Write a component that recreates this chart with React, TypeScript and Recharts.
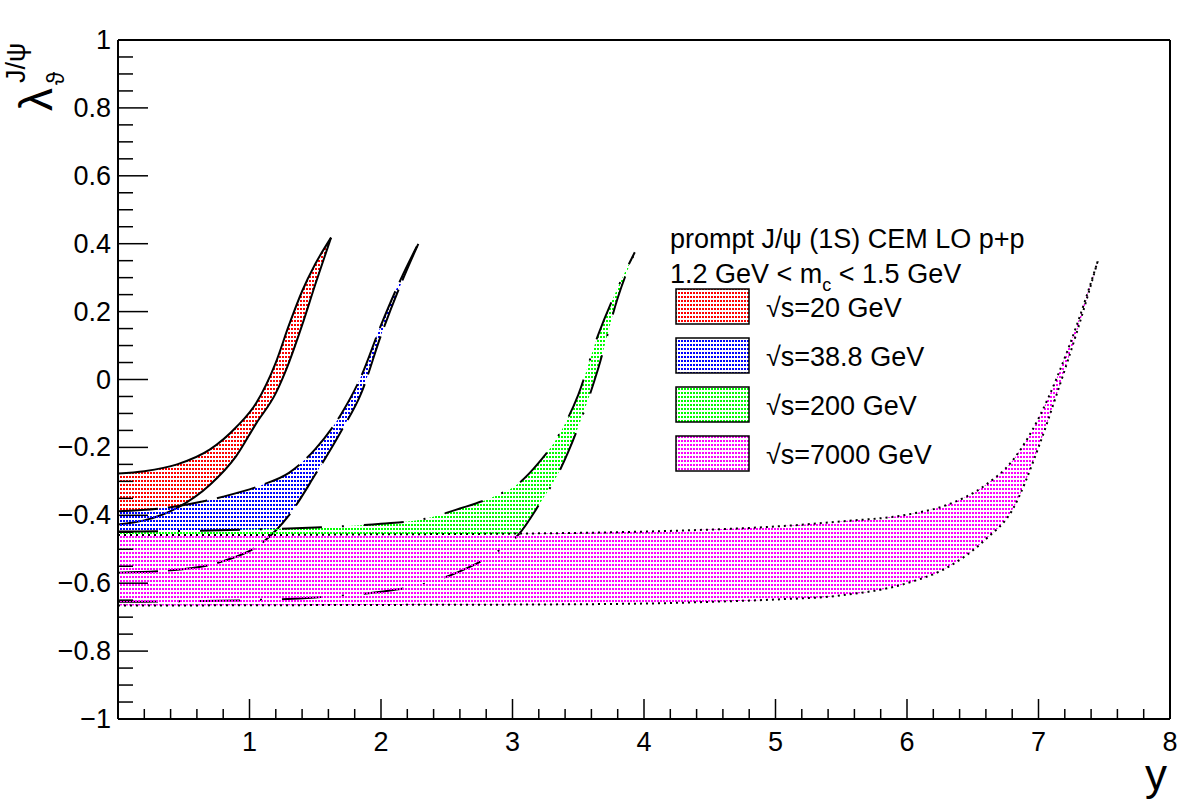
import { ComposedChart, Area, XAxis, YAxis, ReferenceLine } from 'recharts';

const W = 1182;
const H = 800;
const FONT = 'Liberation Sans, Arial, DejaVu Sans, sans-serif';

// rapidity samples and lambda_theta band edges, one set per energy
const RED_X = [0, 0.2, 0.45, 0.7, 0.9, 1.05, 1.2, 1.3, 1.4, 1.5, 1.62];
const RED_LO = [-0.427, -0.415, -0.378, -0.31, -0.225, -0.13, -0.04, 0.05, 0.16, 0.28, 0.418];
const RED_HI = [-0.277, -0.27, -0.25, -0.206, -0.14, -0.07, 0.05, 0.16, 0.26, 0.34, 0.418];

const BLUE_X = [0, 0.4, 0.8, 1.1, 1.3, 1.5, 1.7, 1.85, 2.0, 2.15, 2.29];
const BLUE_LO = [-0.569, -0.562, -0.535, -0.48, -0.4, -0.28, -0.15, -0.04, 0.13, 0.28, 0.405];
const BLUE_HI = [-0.388, -0.376, -0.345, -0.31, -0.275, -0.205, -0.1, 0.01, 0.16, 0.295, 0.405];

const GREEN_X = [0, 0.5, 1.0, 1.5, 2.0, 2.3, 2.6, 2.85, 3.05, 3.2, 3.35, 3.5, 3.65, 3.8, 3.93];
const GREEN_LO = [-0.655, -0.653, -0.65, -0.642, -0.625, -0.605, -0.565, -0.515, -0.455, -0.37, -0.275, -0.14, 0.03, 0.24, 0.375];
const GREEN_HI = [-0.448, -0.446, -0.442, -0.436, -0.425, -0.413, -0.38, -0.346, -0.305, -0.245, -0.165, -0.045, 0.13, 0.27, 0.375];

const MAG_X = [0, 1, 2, 3, 4, 4.5, 5, 5.5, 6, 6.3, 6.6, 6.8, 7.0, 7.15, 7.3, 7.45];
const MAG_LO = [-0.666, -0.665, -0.664, -0.663, -0.66, -0.655, -0.648, -0.636, -0.6, -0.555, -0.47, -0.385, -0.2, -0.03, 0.15, 0.348];
const MAG_HI = [-0.458, -0.458, -0.456, -0.454, -0.448, -0.442, -0.433, -0.418, -0.398, -0.37, -0.31, -0.24, -0.115, 0.015, 0.17, 0.348];

const NAMES = ['√s=20 GeV', '√s=38.8 GeV', '√s=200 GeV', '√s=7000 GeV'];

const X_MAJOR = [1, 2, 3, 4, 5, 6, 7, 8];
const X_LABELS = ['1', '2', '3', '4', '5', '6', '7', '8'];
const Y_MAJOR = [-1, -0.8, -0.6, -0.4, -0.2, 0, 0.2, 0.4, 0.6, 0.8, 1];
const Y_LABELS = ['−1', '−0.8', '−0.6', '−0.4', '−0.2', '0', '0.2', '0.4', '0.6', '0.8', '1'];

// minor ticks: 0.2 on x, 0.05 on y
const X_TICKS = Array.from({ length: 41 }, (_, i) => Math.round(i * 20) / 100);
const Y_TICKS = Array.from({ length: 41 }, (_, i) => Math.round(i * 5 - 100) / 100);

const rows = (xs: number[], lo: number[], hi: number[]) =>
  xs.map((x, i) => ({ x, band: [lo[i], hi[i]] }));

const COLORS = ['#ff0000', '#0000ff', '#00ff00', '#ff00ff'];
const DASHES = [undefined, '40 10', '40 20 2 20', '2 4'];
const bands = [
  rows(RED_X, RED_LO, RED_HI),
  rows(BLUE_X, BLUE_LO, BLUE_HI),
  rows(GREEN_X, GREEN_LO, GREEN_HI),
  rows(MAG_X, MAG_LO, MAG_HI),
];

const near = (a: number, b: number) => Math.abs(a - b) < 1e-6;

const XTick = (props: any) => {
  const { x, y, payload } = props;
  const v = payload.value;
  const i = X_MAJOR.findIndex((m) => near(m, v));
  const major = near(v, Math.round(v));
  return (
    <g>
      <line x1={x} x2={x} y1={y} y2={y - (major ? 20 : 10)} stroke="#000" strokeWidth={1.5} />
      {i >= 0 && (
        <text x={x} y={y + 32} textAnchor="middle" fontSize={27} fontFamily={FONT} fill="#000">
          {X_LABELS[i]}
        </text>
      )}
    </g>
  );
};

const YTick = (props: any) => {
  const { x, y, payload } = props;
  const v = payload.value;
  const i = Y_MAJOR.findIndex((m) => near(m, v));
  return (
    <g>
      <line x1={x} x2={x + (i >= 0 ? 30 : 15)} y1={y} y2={y} stroke="#000" strokeWidth={1.5} />
      {i >= 0 && (
        <text x={x - 7} y={y + 9} textAnchor="end" fontSize={27} fontFamily={FONT} fill="#000">
          {Y_LABELS[i]}
        </text>
      )}
    </g>
  );
};

const YTitle = () => (
  <g fontFamily={FONT} fill="#000">
    <text x={52} y={111} transform="rotate(-90 52 111)" fontSize={46}>λ</text>
    <text x={64} y={85} transform="rotate(-90 64 85)" fontSize={24}>ϑ</text>
    <text x={25} y={83} transform="rotate(-90 25 83)" fontSize={27}>J/ψ</text>
  </g>
);

const XTitle = () => (
  <text x={1167} y={790} textAnchor="end" fontSize={44} fontFamily={FONT} fill="#000">y</text>
);

export default function App() {
  return (
    <div style={{ position: 'absolute', left: 0, top: 0, width: W, height: H, background: '#fff' }}>
      <ComposedChart width={W} height={H} margin={{ top: 40, right: 12, bottom: 0, left: 0 }}>
        <XAxis
          type="number"
          dataKey="x"
          domain={[0, 8]}
          ticks={X_TICKS}
          interval={0}
          allowDataOverflow
          height={81}
          tickSize={0}
          tickMargin={0}
          tickLine={false}
          tick={XTick}
          axisLine={{ stroke: '#000', strokeWidth: 2 }}
          label={XTitle}
        />
        <YAxis
          type="number"
          domain={[-1, 1]}
          ticks={Y_TICKS}
          interval={0}
          allowDataOverflow
          width={118}
          tickSize={0}
          tickMargin={0}
          tickLine={false}
          tick={YTick}
          axisLine={{ stroke: '#000', strokeWidth: 2 }}
          label={YTitle}
        />
        <ReferenceLine y={1} stroke="#000" strokeWidth={2} />
        <ReferenceLine x={8} stroke="#000" strokeWidth={2} />
        {bands.map((data, i) => (
          <Area
            key={NAMES[i]}
            name={NAMES[i]}
            data={data}
            dataKey="band"
            type="monotone"
            fill={`url(#dots${i})`}
            fillOpacity={1}
            stroke="#000"
            strokeWidth={2}
            strokeDasharray={DASHES[i]}
            dot={false}
            activeDot={false}
            isAnimationActive={false}
          />
        ))}
      </ComposedChart>
      <svg
        width={W}
        height={H}
        style={{ position: 'absolute', left: 0, top: 0, pointerEvents: 'none' }}
      >
        <defs>
          {COLORS.map((c, i) => (
            <pattern key={c} id={`dots${i}`} width={3} height={4} patternUnits="userSpaceOnUse">
              <rect x={0} y={0} width={2} height={2} fill={c} />
            </pattern>
          ))}
        </defs>
        <g fontFamily={FONT} fontSize={27} fill="#000">
          <text x={670} y={248}>prompt J/ψ (1S) CEM LO p+p</text>
          <text x={670} y={283}>
            1.2 GeV &lt; m<tspan dy={8} fontSize={18}>c</tspan>
            <tspan dy={-8}> &lt; 1.5 GeV</tspan>
          </text>
          {NAMES.map((n, i) => (
            <g key={n}>
              <rect
                x={676}
                y={289 + 49 * i}
                width={73}
                height={35}
                fill={`url(#dots${i})`}
                stroke="#000"
                strokeWidth={1.5}
              />
              <text x={766} y={317 + 49 * i}>{n}</text>
            </g>
          ))}
        </g>
      </svg>
    </div>
  );
}
